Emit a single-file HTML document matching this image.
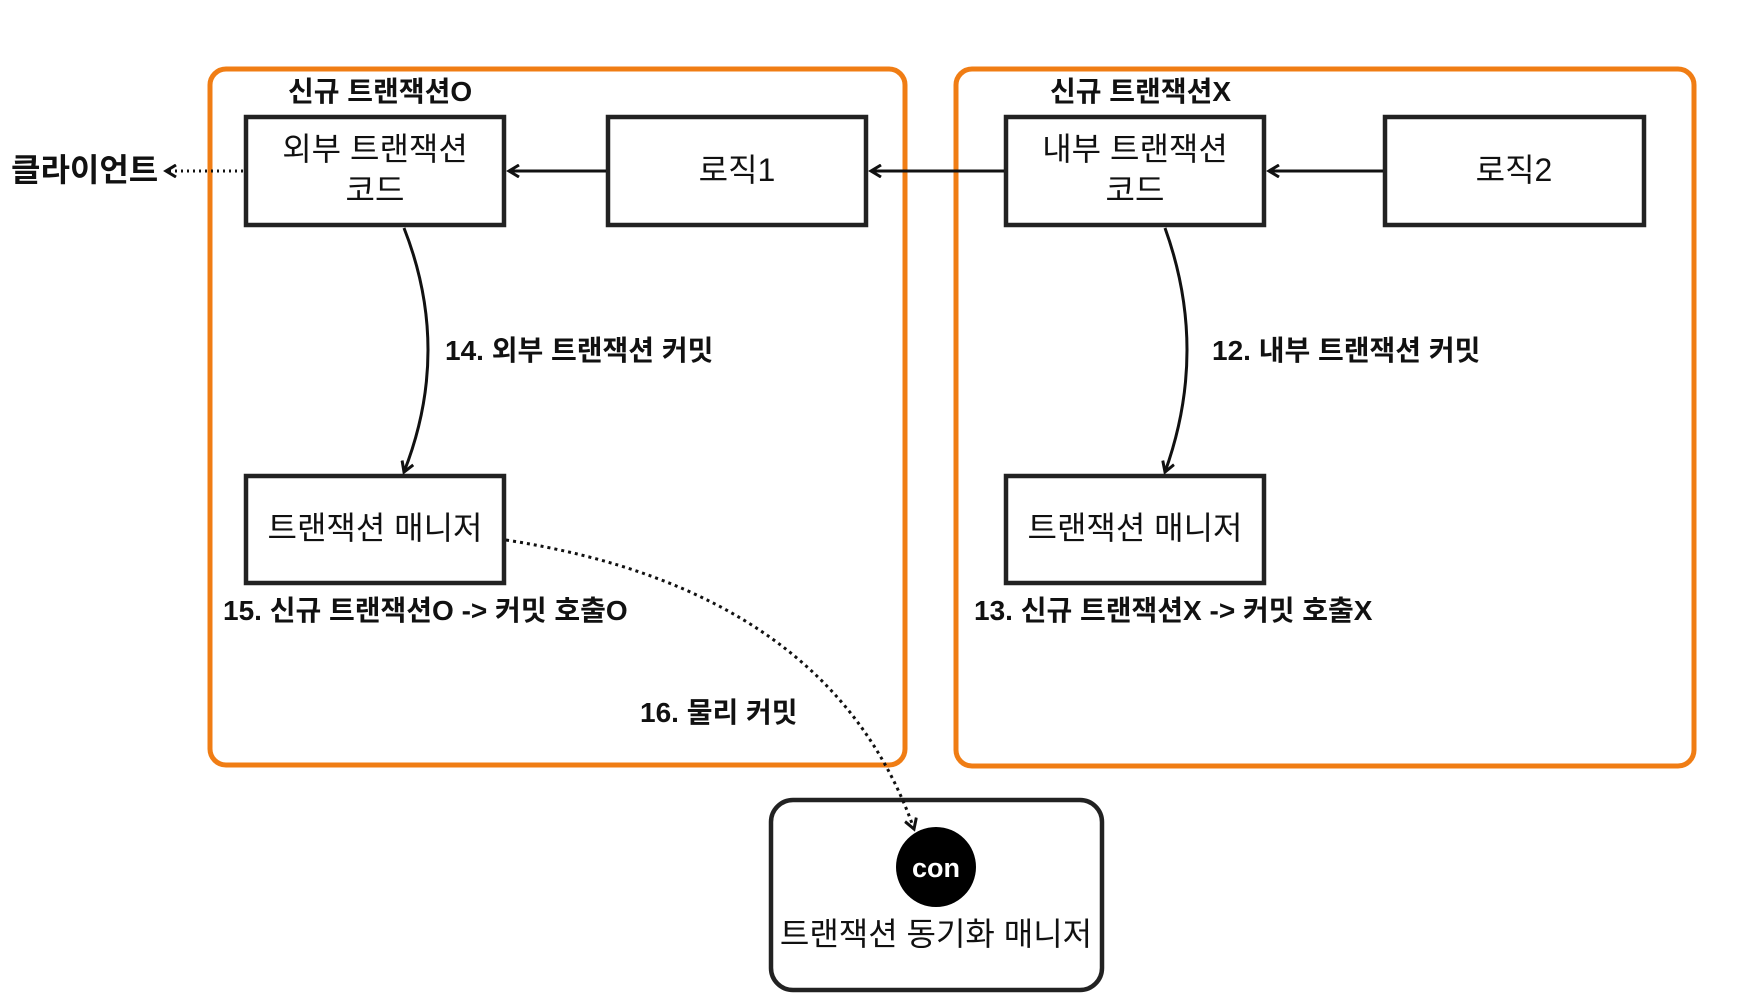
<!DOCTYPE html>
<html><head><meta charset="utf-8"><style>
html,body{margin:0;padding:0;background:#fff;}
svg{display:block}
text{font-family:"Liberation Sans","Noto Sans CJK KR",sans-serif;fill:#111}
.b{font-weight:bold;font-size:28px}
.n{font-size:32px}
</style></head><body>
<svg width="1750" height="1000" viewBox="0 0 1750 1000" xmlns="http://www.w3.org/2000/svg">
<defs>
<marker id="ah" markerWidth="14" markerHeight="14" refX="11" refY="7" orient="auto" markerUnits="userSpaceOnUse">
<path d="M1,1 L11,7 L1,13" fill="none" stroke="#111" stroke-width="3"/>
</marker>
</defs>
<rect x="210" y="69" width="695" height="696" rx="16" fill="none" stroke="#f07d14" stroke-width="5"/>
<rect x="956" y="69" width="738" height="697" rx="16" fill="none" stroke="#f07d14" stroke-width="5"/>
<g fill="none" stroke="#222" stroke-width="4.5">
<rect x="246" y="117" width="258" height="108"/>
<rect x="608" y="117" width="258" height="108"/>
<rect x="1006" y="117" width="258" height="108"/>
<rect x="1385" y="117" width="259" height="108"/>
<rect x="246" y="476" width="258" height="107"/>
<rect x="1006" y="476" width="258" height="107"/>
<rect x="771" y="800" width="331" height="190" rx="22"/>
</g>
<circle cx="936" cy="867" r="40" fill="#000"/>
<text x="936" y="877" text-anchor="middle" style="fill:#fff;font-size:27px;font-weight:bold">con</text>
<g stroke="#111" stroke-width="3" fill="none">
<line x1="606" y1="171" x2="509" y2="171" marker-end="url(#ah)"/>
<line x1="1004" y1="171" x2="871" y2="171" marker-end="url(#ah)"/>
<line x1="1383" y1="171" x2="1269" y2="171" marker-end="url(#ah)"/>
<line x1="243" y1="171" x2="166" y2="171" stroke-dasharray="2 4" marker-end="url(#ah)"/>
<path d="M404,228 Q452,350 404,472" marker-end="url(#ah)"/>
<path d="M1165,228 Q1209,350 1165,472" marker-end="url(#ah)"/>
<path d="M506,540 Q830,590 914,829" stroke-dasharray="3 4" marker-end="url(#ah)"/>
</g>
<text class="b" x="288" y="101">신규 트랜잭션O</text>
<text class="b" x="1050" y="101">신규 트랜잭션X</text>
<text class="b" x="11" y="181" style="font-size:32px">클라이언트</text>
<text class="n" x="375" y="160" text-anchor="middle">외부 트랜잭션</text>
<text class="n" x="375" y="201" text-anchor="middle">코드</text>
<text class="n" x="737" y="181" text-anchor="middle">로직1</text>
<text class="n" x="1135" y="160" text-anchor="middle">내부 트랜잭션</text>
<text class="n" x="1135" y="201" text-anchor="middle">코드</text>
<text class="n" x="1514" y="181" text-anchor="middle">로직2</text>
<text class="n" x="375" y="539" text-anchor="middle">트랜잭션 매니저</text>
<text class="n" x="1135" y="539" text-anchor="middle">트랜잭션 매니저</text>
<text class="n" x="936" y="945" text-anchor="middle">트랜잭션 동기화 매니저</text>
<text class="b" x="445" y="360">14. 외부 트랜잭션 커밋</text>
<text class="b" x="1212" y="360">12. 내부 트랜잭션 커밋</text>
<text class="b" x="223" y="620">15. 신규 트랜잭션O -&gt; 커밋 호출O</text>
<text class="b" x="974" y="620">13. 신규 트랜잭션X -&gt; 커밋 호출X</text>
<text class="b" x="640" y="722">16. 물리 커밋</text>
</svg>
</body></html>
